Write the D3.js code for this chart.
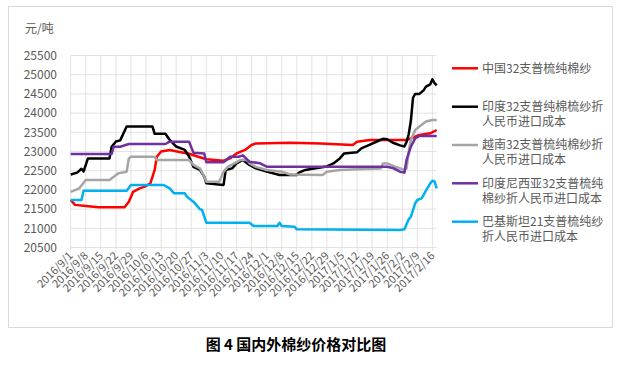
<!DOCTYPE html>
<html>
<head>
<meta charset="utf-8">
<script src="https://cdn.jsdelivr.net/npm/d3@7/dist/d3.min.js"></script>
<style>
	body { margin: 0; background: #fff; }
	text { font-family: "Noto Sans CJK SC", "Noto Sans", sans-serif; }
</style>
</head>
<body>
<svg id="chart" width="626" height="368"></svg>
<script>
// week tick labels on the x axis
const tickLabels = ["2016/9/1", "2016/9/8", "2016/9/15", "2016/9/22", "2016/9/29",
	"2016/10/6", "2016/10/13", "2016/10/20", "2016/10/27", "2016/11/3", "2016/11/10",
	"2016/11/17", "2016/11/24", "2016/12/1", "2016/12/8", "2016/12/15", "2016/12/22",
	"2016/12/29", "2017/1/5", "2017/1/12", "2017/1/19", "2017/1/26", "2017/2/2",
	"2017/2/9", "2017/2/16"];
const yTicks = [20500, 21000, 21500, 22000, 22500, 23000, 23500, 24000, 24500, 25000, 25500];

// series: [date, price]
const china32 = [["2016-09-01", 21740], ["2016-09-03", 21610], ["2016-09-08", 21580],
	["2016-09-14", 21550], ["2016-09-26", 21550], ["2016-09-28", 21690], ["2016-09-30", 21950],
	["2016-10-03", 22040], ["2016-10-06", 22100], ["2016-10-08", 22170], ["2016-10-10", 22520],
	["2016-10-11", 22865], ["2016-10-13", 23000], ["2016-10-17", 23040], ["2016-10-21", 22995],
	["2016-10-26", 22940], ["2016-10-31", 22850], ["2016-11-03", 22800], ["2016-11-11", 22760],
	["2016-11-14", 22820], ["2016-11-17", 22950], ["2016-11-21", 23040], ["2016-11-24", 23170],
	["2016-11-26", 23210], ["2016-12-12", 23230], ["2016-12-26", 23210], ["2017-01-10", 23170],
	["2017-01-12", 23255], ["2017-01-18", 23300], ["2017-02-04", 23300], ["2017-02-10", 23430],
	["2017-02-15", 23475], ["2017-02-18", 23560]];

const india32 = [["2016-09-01", 22400], ["2016-09-04", 22450], ["2016-09-06", 22550],
	["2016-09-07", 22480], ["2016-09-09", 22820], ["2016-09-19", 22820], ["2016-09-20", 23120],
	["2016-09-22", 23260], ["2016-09-24", 23290], ["2016-09-27", 23650], ["2016-10-09", 23650],
	["2016-10-10", 23460], ["2016-10-15", 23460], ["2016-10-17", 23300], ["2016-10-20", 23130],
	["2016-10-24", 23040], ["2016-10-26", 22870], ["2016-10-28", 22600], ["2016-10-31", 22520],
	["2016-11-02", 22350], ["2016-11-03", 22170], ["2016-11-11", 22130], ["2016-11-12", 22520],
	["2016-11-15", 22560], ["2016-11-17", 22690], ["2016-11-20", 22780], ["2016-11-23", 22650],
	["2016-11-26", 22560], ["2016-12-01", 22475], ["2016-12-07", 22390], ["2016-12-15", 22390],
	["2016-12-16", 22450], ["2016-12-19", 22520], ["2016-12-23", 22560], ["2016-12-29", 22610],
	["2017-01-01", 22690], ["2017-01-04", 22820], ["2017-01-06", 22950], ["2017-01-12", 22980],
	["2017-01-14", 23080], ["2017-01-18", 23180], ["2017-01-22", 23280], ["2017-01-24", 23330],
	["2017-01-26", 23320], ["2017-01-29", 23220], ["2017-02-01", 23160], ["2017-02-03", 23130],
	["2017-02-04", 23250], ["2017-02-05", 23450], ["2017-02-06", 23800], ["2017-02-07", 24400],
	["2017-02-08", 24500], ["2017-02-10", 24500], ["2017-02-12", 24600], ["2017-02-13", 24690],
	["2017-02-15", 24750], ["2017-02-16", 24880], ["2017-02-17", 24780], ["2017-02-18", 24720]];

const vietnam32 = [["2016-09-01", 21950], ["2016-09-05", 22040], ["2016-09-08", 22260],
	["2016-09-19", 22260], ["2016-09-21", 22345], ["2016-09-23", 22430], ["2016-09-27", 22475],
	["2016-09-28", 22820], ["2016-09-29", 22865], ["2016-10-10", 22865], ["2016-10-11", 22780],
	["2016-10-26", 22780], ["2016-10-28", 22650], ["2016-10-31", 22560], ["2016-11-02", 22345],
	["2016-11-03", 22215], ["2016-11-09", 22215], ["2016-11-11", 22475], ["2016-11-13", 22600],
	["2016-11-16", 22690], ["2016-11-19", 22780], ["2016-11-22", 22780], ["2016-11-23", 22690],
	["2016-11-26", 22600], ["2016-12-01", 22520], ["2016-12-08", 22475], ["2016-12-12", 22400],
	["2016-12-27", 22390], ["2016-12-29", 22475], ["2017-01-04", 22520], ["2017-01-12", 22540],
	["2017-01-23", 22560], ["2017-01-24", 22690], ["2017-01-26", 22690], ["2017-01-30", 22600],
	["2017-02-03", 22520], ["2017-02-04", 22560], ["2017-02-05", 23000], ["2017-02-06", 23300],
	["2017-02-08", 23560], ["2017-02-10", 23650], ["2017-02-13", 23780], ["2017-02-16", 23820],
	["2017-02-18", 23820]];

const indonesia32 = [["2016-09-01", 22935], ["2016-09-20", 22935], ["2016-09-21", 23125],
	["2016-09-24", 23125], ["2016-09-28", 23195], ["2016-10-15", 23195], ["2016-10-17", 23255],
	["2016-10-26", 23255], ["2016-10-28", 22970], ["2016-11-02", 22950], ["2016-11-03", 22720],
	["2016-11-11", 22720], ["2016-11-14", 22865], ["2016-11-18", 22865], ["2016-11-20", 22900],
	["2016-11-23", 22735], ["2016-11-28", 22693], ["2016-12-01", 22604], ["2017-01-26", 22604],
	["2017-01-29", 22563], ["2017-02-01", 22475], ["2017-02-03", 22450], ["2017-02-04", 22780],
	["2017-02-06", 23125], ["2017-02-08", 23343], ["2017-02-10", 23404], ["2017-02-18", 23404]];

const pakistan21 = [["2016-09-01", 21737], ["2016-09-06", 21737], ["2016-09-07", 21980],
	["2016-09-27", 21980], ["2016-09-29", 22130], ["2016-10-14", 22130], ["2016-10-17", 22040],
	["2016-10-19", 21910], ["2016-10-24", 21910], ["2016-10-25", 21823], ["2016-10-28", 21693],
	["2016-10-31", 21500], ["2016-11-01", 21476], ["2016-11-03", 21146], ["2016-11-23", 21146],
	["2016-11-25", 21060], ["2016-12-06", 21060], ["2016-12-07", 21146], ["2016-12-08", 21060],
	["2016-12-14", 21042], ["2016-12-15", 20973], ["2017-02-01", 20955], ["2017-02-03", 20973],
	["2017-02-05", 21233], ["2017-02-06", 21303], ["2017-02-08", 21650], ["2017-02-09", 21737],
	["2017-02-11", 21780], ["2017-02-13", 21980], ["2017-02-15", 22170], ["2017-02-16", 22240],
	["2017-02-17", 22220], ["2017-02-18", 22040]];

const seriesNames = [["中国32支普梳纯棉纱"], ["印度32支普纯棉梳纱折", "人民币进口成本"],
	["越南32支普梳纯棉纱折", "人民币进口成本"], ["印度尼西亚32支普梳纯", "棉纱折人民币进口成本"],
	["巴基斯坦21支普梳纯纱", "折人民币进口成本"]];
const seriesColors = ["#ff0000", "#000000", "#a5a5a5", "#7030a0", "#00b0f0"];
const seriesData = [china32, india32, vietnam32, indonesia32, pakistan21];

const svg = d3.select("#chart");
const parseDay = d3.timeParse("%Y-%m-%d");
const parseTick = d3.timeParse("%Y/%m/%d");

// chart frame
svg.append("rect").attr("x", 8.5).attr("y", 6.5).attr("width", 604).attr("height", 321)
	.attr("fill", "#fff").attr("stroke", "#d9d9d9");

const x = d3.scaleTime()
	.domain([parseDay("2016-09-01"), parseDay("2017-02-18")])
	.range([70.7, 436.7]);
const y = d3.scaleLinear().domain([20500, 25500]).range([247.5, 55.5]);

/* grid */
const grid = svg.append("g");
grid.selectAll(".hg").data(yTicks).join("line")
	.attr("x1", x.range()[0]).attr("x2", x.range()[1])
	.attr("y1", d => y(d)).attr("y2", d => y(d))
	.attr("stroke", "#d9d9d9").attr("stroke-width", 0.75);
grid.selectAll(".vg").data(tickLabels).join("line")
	.attr("x1", d => x(parseTick(d))).attr("x2", d => x(parseTick(d)))
	.attr("y1", y(25500)).attr("y2", y(20500) + 4)
	.attr("stroke", "#d9d9d9").attr("stroke-width", 0.75);

/* y axis labels */
svg.selectAll(".yl").data(yTicks).join("text")
	.attr("x", 57).attr("y", d => y(d)).attr("dy", "0.36em")
	.attr("text-anchor", "end").attr("font-size", 12).attr("fill", "#595959")
	.text(d => d);
svg.append("text").attr("x", 25).attr("y", 29).attr("dy", "0.36em")
	.attr("font-size", 12).attr("fill", "#595959").text("元/吨");

/* x axis labels */
svg.selectAll(".xl").data(tickLabels).join("text")
	.attr("transform", d => `translate(${x(parseTick(d)) + 3},${y(20500) + 9}) rotate(-45)`)
	.attr("text-anchor", "end").attr("font-size", 11).attr("fill", "#595959")
	.text(d => d);

/* lines */
const line = d3.line()
	.x(d => x(parseDay(d[0])))
	.y(d => y(d[1]));

seriesData.forEach((data, i) => {
	svg.append("path").datum(data)
		.attr("d", line)
		.attr("fill", "none")
		.attr("stroke", seriesColors[i])
		.attr("stroke-width", 2.5)
		.attr("stroke-linejoin", "round");
});

/* legend: one text per entry, wrapped with tspans */
const legendY = [68.3, 106.7, 145, 183.3, 221.7];
seriesNames.forEach((name, i) => {
	const g = svg.append("g");
	g.append("line").attr("x1", 452).attr("x2", 478)
		.attr("y1", legendY[i]).attr("y2", legendY[i])
		.attr("stroke", seriesColors[i]).attr("stroke-width", 2.5);
	const txt = g.append("text").attr("y", legendY[i]).attr("dy", "0.36em")
		.attr("font-size", 12).attr("fill", "#595959");
	name.forEach((t, j) => {
		txt.append("tspan").attr("x", 482).attr("dy", j === 0 ? "0.36em" : 15).text(t);
	});
});

/* caption */
svg.append("text").attr("x", 296).attr("y", 345).attr("dy", "0.36em")
	.attr("text-anchor", "middle").attr("font-size", 15).attr("font-weight", "bold")
	.attr("fill", "#000").text("图 4  国内外棉纱价格对比图");
</script>
</body>
</html>
